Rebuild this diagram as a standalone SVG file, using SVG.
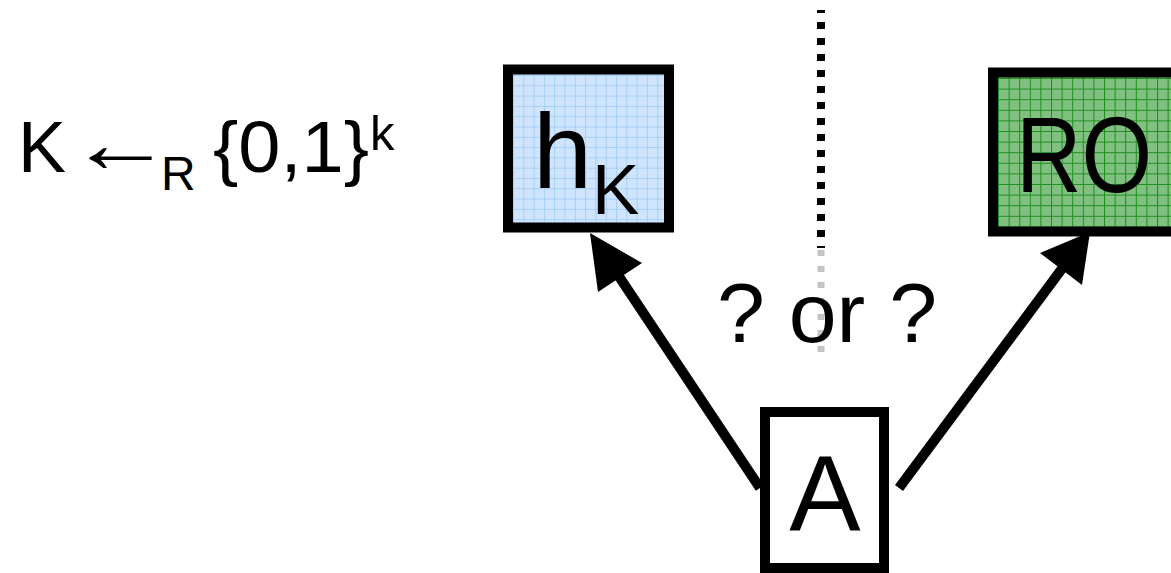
<svg xmlns="http://www.w3.org/2000/svg" width="1171" height="573" viewBox="0 0 1171 573">
<style>
  .t { font-family: "Liberation Sans", Arial, sans-serif; fill: #000; }
  .box { stroke: #000; stroke-width: 10; }
  .conn { stroke: #000; stroke-width: 10; fill: none; }
</style>
<defs>
  <pattern id="gridBlue" x="513" y="75" width="10.3" height="10.3" patternUnits="userSpaceOnUse">
    <rect width="10.3" height="10.3" fill="#cfe5ff"/>
    <path d="M0 0.5 H10.3 M0.5 0 V10.3" stroke="#a6cff6" stroke-width="1"/>
  </pattern>
  <pattern id="gridGreen" x="998" y="78" width="10.6" height="10.6" patternUnits="userSpaceOnUse">
    <rect width="10.6" height="10.6" fill="#80c080"/>
    <path d="M0 0.5 H10.6 M0.5 0 V10.6" stroke="#1f8f1f" stroke-width="1"/>
  </pattern>
</defs>
<rect width="1171" height="573" fill="#fff"/>

<g id="formula">
  <text class="t" x="18" y="172" font-size="72">K</text>
  <text class="t" transform="translate(68,172) scale(1.25,1)" x="0" y="0" font-size="84">←</text>
  <text class="t" x="161" y="190" font-size="48">R</text>
  <text class="t" x="213" y="172" font-size="72" textLength="156" lengthAdjust="spacingAndGlyphs">{0,1}</text>
  <text class="t" x="370" y="150" font-size="49">k</text>
</g>

<g id="divider">
  <line x1="821" y1="10" x2="821" y2="248" stroke="#000" stroke-width="8" stroke-dasharray="7 9" stroke-dashoffset="4"/>
  <line x1="821" y1="250" x2="821" y2="352" stroke="#c4c4c4" stroke-width="7" stroke-dasharray="6 10"/>
</g>

<g id="connectors">
  <line class="conn" x1="760" y1="488" x2="618" y2="275"/>
  <polygon points="590,233 598,292 642,263" fill="#000"/>
  <line class="conn" x1="899" y1="488" x2="1064" y2="266"/>
  <polygon points="1090,232 1040,253 1082,285" fill="#000"/>
</g>

<g id="node-hK">
  <rect class="box" x="508" y="69.5" width="161" height="158" fill="url(#gridBlue)"/>
  <text class="t" x="533" y="188" font-size="106">h</text>
  <text class="t" x="592" y="214" font-size="71">K</text>
</g>

<g id="node-RO">
  <rect class="box" x="993" y="72.5" width="200" height="159" fill="url(#gridGreen)"/>
  <text class="t" x="1016" y="192" font-size="107" textLength="136" lengthAdjust="spacingAndGlyphs">RO</text>
</g>

<g id="label-or">
  <text class="t" x="717" y="342" font-size="84" textLength="220" lengthAdjust="spacingAndGlyphs">? or ?</text>
</g>

<g id="node-A">
  <rect class="box" x="765" y="412" width="119" height="156" fill="#fff"/>
  <text class="t" x="825" y="531" font-size="107" text-anchor="middle">A</text>
</g>
</svg>
